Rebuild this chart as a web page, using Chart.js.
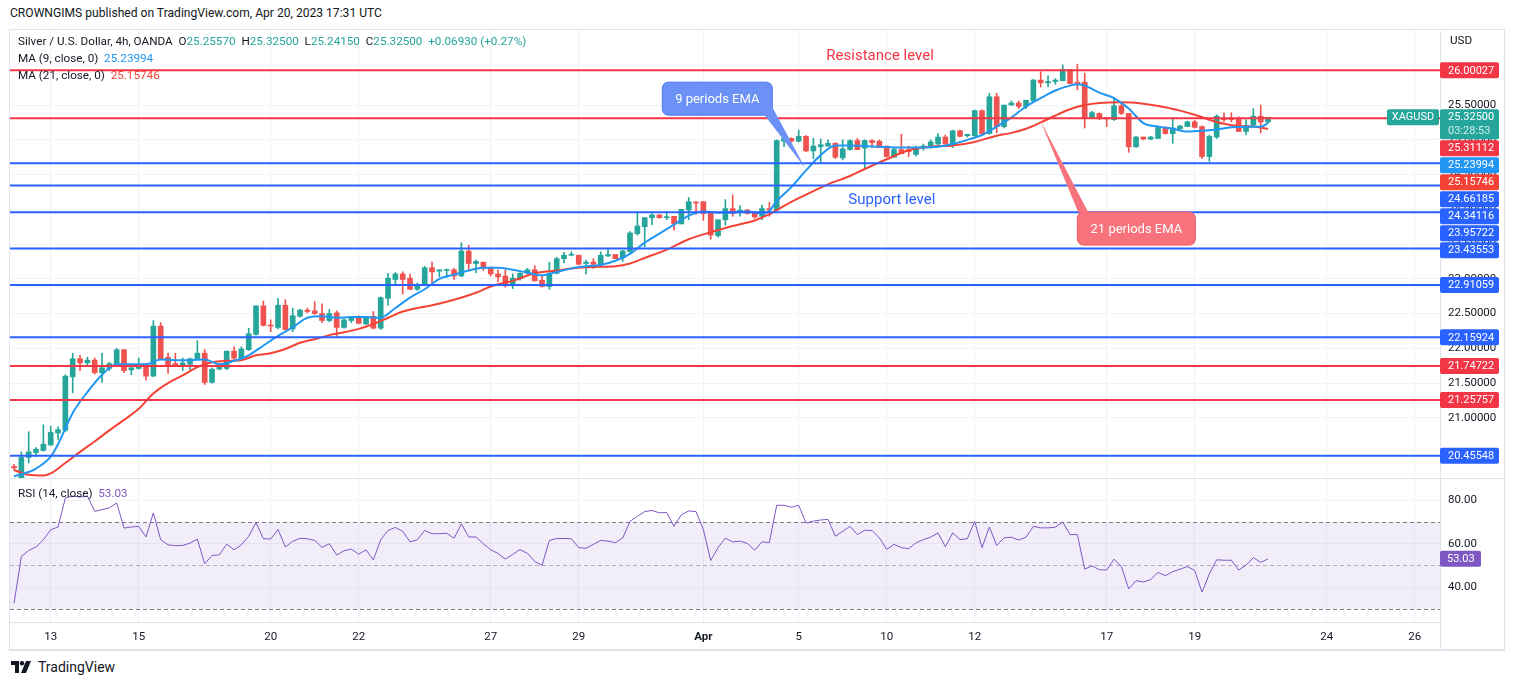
<!DOCTYPE html>
<html>
<head>
<meta charset="utf-8">
<title>Silver / U.S. Dollar 4h</title>
<script src="https://cdn.jsdelivr.net/npm/chart.js@4.4.0/dist/chart.umd.min.js"></script>
<style>
    body { margin: 0; width: 1514px; height: 685px; overflow: hidden; background: #fff;
           font-family: Roboto, "Noto Sans", sans-serif; color: #131722; position: relative; }
    #pub { position: absolute; left: 10px; top: 6px; font-size: 12.1px; }
    #frame { position: absolute; left: 9px; top: 29px; width: 1496px; height: 622px; box-sizing: border-box;
             border: 1px solid #e0e3eb; border-bottom-width: 2px; }
    canvas { position: absolute; left: 10px; }
    #main { top: 31px; }
    #rsi { top: 478px; }
    .sep { position: absolute; background: #e0e3eb; }
    .txt { position: absolute; font-size: 11.7px; white-space: pre; line-height: 14px; }
    #logo { position: absolute; left: 11px; top: 659px; font-size: 14px; display: flex; align-items: center; gap: 5px; }
</style>
</head>
<body>
<div id="pub">CROWNGIMS published on TradingView.com, Apr 20, 2023 17:31 UTC</div>
<div id="frame"></div>
<canvas id="main" width="1494" height="447"></canvas>
<canvas id="rsi" width="1494" height="172"></canvas>
<div class="sep" style="left:10px;top:478px;width:1494px;height:1px"></div>
<div class="sep" style="left:1440px;top:622px;width:1px;height:28px"></div>
<div class="txt" id="leg1" style="left:18px;top:34px"></div>
<div class="txt" id="leg2" style="left:18px;top:51px"></div>
<div class="txt" id="leg3" style="left:18px;top:68px"></div>
<div class="txt" style="left:1450px;top:33px">USD</div>
<div class="txt" id="leg4" style="left:18px;top:486px"></div>
<div id="logo">
    <svg width="22" height="14" viewBox="0 0 22 14"><path d="M0 1h8v12H4V5H0z" fill="#131722"/><circle cx="11" cy="3.2" r="2.2" fill="#131722"/><path d="M15 1h5l-5 12h-5z" fill="#131722"/></svg>
    <span>TradingView</span>
</div>

<script>
"use strict";

// candles, 4h bars, index 0 = first bar on screen (Mar 12 evening)
const open = [
    20.30, 20.12, 20.43, 20.50, 20.53, 20.61, 20.78, 20.82, 21.59, 21.85,
    21.79, 21.83, 21.65, 21.71, 21.75, 21.98, 21.69, 21.71, 21.77, 21.60,
    22.32, 21.87, 21.78, 21.76, 21.77, 21.85, 21.93, 21.51, 21.70, 21.71,
    21.96, 21.86, 21.98, 22.20, 22.61, 22.33, 22.30, 22.62, 22.28, 22.46,
    22.55, 22.54, 22.50, 22.40, 22.51, 22.30, 22.40, 22.45, 22.35, 22.46,
    22.29, 22.72, 22.99, 23.07, 23.01, 22.85, 22.91, 23.16, 23.11, 23.12,
    23.13, 23.04, 23.40, 23.22, 23.24, 23.16, 23.07, 23.04, 22.90, 23.00,
    23.08, 23.13, 22.98, 22.89, 23.08, 23.29, 23.34, 23.34, 23.22, 23.24,
    23.20, 23.33, 23.35, 23.30, 23.39, 23.65, 23.75, 23.88, 23.92, 23.88,
    23.90, 23.79, 23.99, 24.10, 24.11, 23.95, 23.62, 23.85, 24.01, 23.96,
    23.99, 23.95, 23.90, 24.01, 23.99, 24.98, 25.02, 24.98, 25.05, 24.84,
    24.90, 24.91, 24.95, 24.74, 24.86, 24.99, 24.88, 24.99, 24.98, 24.91,
    24.75, 24.86, 24.86, 24.79, 24.89, 24.89, 24.94, 25.04, 24.94, 25.13,
    25.06, 25.06, 25.42, 25.09, 25.62, 25.19, 25.50, 25.53, 25.48, 25.56,
    25.86, 25.82, 25.84, 25.85, 26.01, 25.83, 25.83, 25.32, 25.38, 25.32,
    25.29, 25.49, 25.38, 24.90, 25.04, 25.01, 25.02, 25.17, 25.09, 25.16,
    25.19, 25.26, 25.19, 24.76, 25.04, 25.31, 25.31, 25.31, 25.12, 25.21,
    25.34, 25.2557
];
const high = [
    20.33, 20.51, 20.80, 20.57, 20.90, 20.88, 20.87, 21.62, 21.93, 21.90,
    21.87, 21.86, 21.93, 21.80, 22.00, 21.98, 21.75, 21.86, 21.78, 22.40,
    22.37, 21.93, 21.93, 21.86, 21.86, 22.11, 21.98, 21.72, 21.78, 21.96,
    22.02, 22.02, 22.29, 22.61, 22.68, 22.41, 22.72, 22.70, 22.58, 22.56,
    22.58, 22.67, 22.64, 22.56, 22.54, 22.42, 22.46, 22.47, 22.46, 22.53,
    22.74, 23.08, 23.09, 23.10, 23.07, 22.94, 23.18, 23.24, 23.13, 23.14,
    23.15, 23.52, 23.48, 23.27, 23.24, 23.17, 23.13, 23.13, 23.07, 23.09,
    23.15, 23.19, 23.05, 23.24, 23.31, 23.38, 23.39, 23.34, 23.27, 23.29,
    23.39, 23.42, 23.35, 23.41, 23.68, 23.95, 23.88, 23.94, 23.92, 23.97,
    23.90, 24.00, 24.17, 24.11, 24.11, 23.95, 23.85, 24.14, 24.21, 24.05,
    24.00, 23.97, 24.06, 24.10, 25.00, 25.03, 25.03, 25.14, 25.06, 25.02,
    25.01, 25.00, 24.96, 25.00, 25.00, 25.02, 25.00, 25.00, 25.00, 24.91,
    24.89, 25.08, 24.91, 24.91, 24.94, 25.00, 25.09, 25.07, 25.14, 25.14,
    25.08, 25.43, 25.43, 25.67, 25.67, 25.50, 25.56, 25.56, 25.57, 25.87,
    25.98, 25.92, 25.88, 26.08, 26.01, 26.09, 25.96, 25.41, 25.39, 25.32,
    25.61, 25.52, 25.38, 25.05, 25.04, 25.05, 25.20, 25.19, 25.32, 25.21,
    25.27, 25.28, 25.20, 25.07, 25.36, 25.39, 25.39, 25.33, 25.29, 25.45,
    25.50, 25.325
];
const low = [
    20.25, 20.10, 20.35, 20.44, 20.52, 20.60, 20.69, 20.80, 21.36, 21.68,
    21.76, 21.63, 21.51, 21.68, 21.74, 21.65, 21.62, 21.70, 21.54, 21.59,
    21.85, 21.64, 21.75, 21.68, 21.69, 21.84, 21.48, 21.50, 21.69, 21.69,
    21.84, 21.84, 21.97, 22.19, 22.32, 22.24, 22.28, 22.27, 22.24, 22.45,
    22.51, 22.49, 22.37, 22.38, 22.17, 22.29, 22.37, 22.35, 22.34, 22.28,
    22.27, 22.62, 22.91, 22.78, 22.84, 22.83, 22.90, 22.90, 23.03, 23.02,
    22.99, 23.03, 23.12, 23.09, 23.12, 23.04, 22.96, 22.88, 22.86, 22.98,
    23.07, 22.97, 22.88, 22.85, 23.07, 23.23, 23.33, 23.20, 23.07, 23.15,
    23.17, 23.32, 23.29, 23.25, 23.38, 23.63, 23.46, 23.78, 23.87, 23.85,
    23.70, 23.79, 23.85, 23.93, 23.84, 23.57, 23.60, 23.77, 23.90, 23.90,
    23.93, 23.87, 23.85, 23.90, 23.98, 24.90, 24.97, 24.97, 24.83, 24.73,
    24.66, 24.91, 24.73, 24.71, 24.85, 24.86, 24.57, 24.89, 24.89, 24.75,
    24.75, 24.80, 24.76, 24.77, 24.85, 24.88, 24.91, 24.94, 24.89, 25.04,
    25.04, 25.04, 25.08, 25.08, 25.10, 25.17, 25.50, 25.45, 25.45, 25.55,
    25.76, 25.76, 25.80, 25.85, 25.80, 25.72, 25.17, 25.31, 25.29, 25.19,
    25.28, 25.36, 24.82, 24.89, 25.00, 25.00, 25.02, 25.08, 24.95, 25.15,
    25.19, 25.17, 24.73, 24.69, 25.02, 25.26, 25.26, 25.12, 25.07, 25.19,
    25.10, 25.2415
];
const close = [
    20.28, 20.43, 20.51, 20.55, 20.62, 20.79, 20.83, 21.60, 21.85, 21.79,
    21.83, 21.65, 21.72, 21.78, 21.98, 21.68, 21.72, 21.76, 21.60, 22.32,
    21.85, 21.76, 21.76, 21.79, 21.85, 21.93, 21.51, 21.70, 21.73, 21.96,
    21.86, 21.99, 22.21, 22.61, 22.33, 22.32, 22.62, 22.27, 22.47, 22.55,
    22.53, 22.50, 22.40, 22.50, 22.30, 22.41, 22.44, 22.36, 22.44, 22.29,
    22.73, 23.01, 23.07, 22.99, 22.85, 22.91, 23.16, 23.10, 23.13, 23.13,
    23.04, 23.40, 23.22, 23.25, 23.15, 23.07, 23.03, 22.90, 23.01, 23.08,
    23.13, 22.97, 22.89, 23.08, 23.29, 23.34, 23.35, 23.21, 23.24, 23.21,
    23.34, 23.35, 23.29, 23.40, 23.66, 23.76, 23.88, 23.92, 23.88, 23.89,
    23.79, 24.00, 24.11, 24.09, 23.94, 23.63, 23.85, 24.01, 23.94, 23.99,
    23.94, 23.89, 24.01, 23.99, 24.99, 25.02, 24.98, 25.05, 24.84, 24.91,
    24.93, 24.95, 24.75, 24.87, 24.99, 24.86, 24.99, 24.96, 24.89, 24.76,
    24.86, 24.80, 24.83, 24.89, 24.91, 24.97, 25.04, 24.94, 25.13, 25.05,
    25.08, 25.42, 25.09, 25.62, 25.19, 25.50, 25.53, 25.48, 25.57, 25.86,
    25.82, 25.84, 25.86, 26.01, 25.81, 25.81, 25.32, 25.39, 25.32, 25.30,
    25.49, 25.38, 24.90, 25.04, 25.01, 25.04, 25.19, 25.09, 25.17, 25.20,
    25.26, 25.18, 24.76, 25.05, 25.34, 25.29, 25.29, 25.12, 25.21, 25.34,
    25.2557, 25.325
];

const ema9Idx = [0, 2, 3, 5, 6, 8, 10, 12, 14, 16, 18, 20, 22, 24, 26, 28, 30, 32, 34, 36, 38, 40, 42, 44, 46, 48, 50,
    52, 54, 56, 58, 60, 62, 64, 66, 68, 70, 72, 74, 76, 78, 80, 82, 84, 86, 88, 90, 92, 94, 96, 98, 100, 102, 103,
    104, 106, 108, 110, 112, 114, 116, 118, 120, 122, 124, 126, 128, 130, 132, 134, 136, 138, 140, 142, 144, 145,
    146, 148, 150, 152, 154, 156, 158, 160, 162, 164, 166, 168, 170, 171];
const ema9Val = [20.16, 20.22, 20.27, 20.44, 20.62, 21.07, 21.37, 21.62, 21.77, 21.77, 21.77, 21.84, 21.83, 21.83,
    21.84, 21.77, 21.82, 21.90, 22.04, 22.18, 22.30, 22.44, 22.46, 22.44, 22.45, 22.45, 22.44, 22.58, 22.73, 22.85,
    23.00, 23.06, 23.12, 23.16, 23.16, 23.13, 23.09, 23.05, 23.10, 23.15, 23.18, 23.20, 23.26, 23.36, 23.52, 23.65,
    23.78, 23.91, 23.97, 23.95, 23.95, 23.97, 23.94, 23.98, 24.12, 24.32, 24.56, 24.78, 24.92, 24.92, 24.91, 24.90,
    24.89, 24.89, 24.89, 24.90, 24.94, 25.00, 25.07, 25.19, 25.32, 25.48, 25.60, 25.71, 25.78, 25.80, 25.78, 25.68,
    25.60, 25.45, 25.24, 25.19, 25.16, 25.12, 25.13, 25.15, 25.18, 25.19, 25.19, 25.23994];

const ema21Idx = [0, 2, 4, 5, 7, 9, 11, 13, 15, 17, 19, 21, 23, 25, 27, 29, 31, 33, 35, 37, 39, 41, 43, 45, 47, 49,
    51, 53, 55, 57, 60, 63, 65, 68, 71, 74, 76, 79, 82, 84, 86, 89, 92, 95, 98, 101, 103, 105, 107, 111, 114, 116,
    119, 122, 125, 128, 131, 134, 136, 138, 140, 142, 144, 146, 148, 151, 154, 157, 159, 161, 163, 165, 167, 169, 171];
const ema21Val = [20.25, 20.18, 20.17, 20.20, 20.35, 20.51, 20.66, 20.82, 20.97, 21.13, 21.35, 21.50, 21.61, 21.73,
    21.80, 21.82, 21.83, 21.90, 21.93, 21.99, 22.08, 22.13, 22.19, 22.23, 22.28, 22.35, 22.44, 22.53, 22.58, 22.62,
    22.70, 22.80, 22.89, 22.97, 23.08, 23.12, 23.15, 23.17, 23.18, 23.22, 23.30, 23.42, 23.57, 23.67, 23.76, 23.84,
    23.93, 24.05, 24.16, 24.36, 24.48, 24.58, 24.72, 24.85, 24.90, 24.92, 24.97, 25.06, 25.10, 25.16, 25.25, 25.35,
    25.44, 25.50, 25.53, 25.54, 25.52, 25.47, 25.42, 25.36, 25.29, 25.23, 25.20, 25.19, 25.15746];

// RSI(14), one value per bar
const rsi = [
    32.6, 54.1, 56.9, 58.5, 61.8, 66.4, 67.7, 81.1, 81.9, 81.5,
    81.9, 74.9, 75.7, 76.5, 78.8, 67.2, 67.7, 68.0, 63.1, 74.2,
    61.8, 59.5, 59.1, 59.2, 60.3, 62.1, 50.8, 54.6, 54.9, 59.8,
    57.2, 59.5, 63.4, 69.8, 62.3, 62.2, 66.5, 58.5, 61.1, 62.5,
    62.3, 61.5, 58.3, 60.0, 54.8, 56.8, 57.5, 55.2, 57.2, 52.6,
    61.8, 66.1, 67.5, 65.7, 60.9, 61.8, 66.1, 64.6, 64.6, 64.8,
    62.5, 69.1, 63.1, 63.1, 60.0, 57.2, 55.5, 52.9, 55.1, 57.3,
    55.6, 51.8, 50.1, 61.5, 62.4, 62.4, 62.3, 58.2, 57.9, 59.7,
    61.5, 61.2, 60.5, 62.6, 70.3, 72.6, 74.8, 75.3, 74.2, 74.4,
    68.0, 73.3, 75.1, 74.8, 66.5, 52.3, 58.2, 62.6, 60.8, 61.2,
    60.1, 57.0, 60.9, 60.5, 77.7, 77.7, 76.8, 77.7, 69.5, 70.4,
    70.9, 71.2, 63.5, 65.7, 68.0, 64.2, 66.2, 66.1, 62.7, 57.4,
    59.7, 58.2, 57.7, 60.4, 61.9, 63.0, 65.0, 58.6, 65.0, 61.9,
    62.3, 70.3, 58.2, 67.7, 59.2, 62.7, 63.0, 61.7, 63.0, 68.0,
    67.3, 67.3, 67.6, 70.0, 64.2, 64.2, 48.3, 49.8, 48.0, 47.9,
    52.9, 49.5, 39.2, 43.0, 42.4, 43.5, 46.8, 45.3, 47.1, 48.3,
    49.5, 47.7, 37.7, 46.1, 52.6, 52.4, 52.4, 47.9, 50.1, 53.6,
    51.4, 53.03
];

// horizontal levels drawn on the chart
const levelPrices = [26.00027, 25.31112, 24.66185, 24.34116, 23.95722, 23.43553, 22.91059, 22.15924, 21.74722, 21.25757, 20.45548];
const levelKinds  = ['res', 'res', 'sup', 'sup', 'sup', 'sup', 'sup', 'sup', 'res', 'res', 'sup'];

// time axis
const tickPos  = [5, 17, 35, 47, 65, 77, 94, 107, 119, 131, 149, 161, 179, 191];
const tickText = ['13', '15', '20', '22', '27', '29', 'Apr', '5', '10', '12', '17', '19', '24', '26'];
const priceTicks = [21, 21.5, 22, 22.5, 23, 23.5, 24, 24.5, 25, 25.5];
const rsiTicks = [40, 60, 80];

const UP = '#26a69a', DOWN = '#ef5350', RED = '#f23645', BLUE = '#2962ff';
const FONT = 'Roboto, "Noto Sans", sans-serif';
const X_MIN = -0.55, X_MAX = 194.45;
const last = close.length - 1;

Chart.defaults.font.family = FONT;
Chart.defaults.color = '#131722';

// ---- legend texts
function span(txt, col) { return '<span style="color:' + col + '">' + txt + '</span>'; }
var chg = close[last] - close[last - 1];
document.getElementById('leg1').innerHTML = 'Silver / U.S. Dollar, 4h, OANDA  O' + span(open[last].toFixed(5), UP)
    + '  H' + span(high[last].toFixed(5), UP) + '  L' + span(low[last].toFixed(5), UP)
    + '  C' + span(close[last].toFixed(5), UP) + '  ' + span('+' + chg.toFixed(5) + ' (+' + (chg / close[last - 1] * 100).toFixed(2) + '%)', UP);
document.getElementById('leg2').innerHTML = 'MA (9, close, 0)  ' + span(ema9Val[ema9Val.length - 1].toFixed(5), '#2196f3');
document.getElementById('leg3').innerHTML = 'MA (21, close, 0)  ' + span(ema21Val[ema21Val.length - 1].toFixed(5), '#f44336');
document.getElementById('leg4').innerHTML = 'RSI (14, close)  ' + span(rsi[last].toFixed(2), '#7e57c2');

// ---- helpers
function timeAxis(showLabels) {
    return {
        type: 'linear', min: X_MIN, max: X_MAX, offset: false,
        afterBuildTicks: function (s) { s.ticks = tickPos.map(function (v) { return { value: v }; }); },
        afterFit: function (s) { s.height = showLabels ? 28 : 0; s.paddingLeft = 0; s.paddingRight = 0; },
        grid: { color: '#f0f3fa', drawTicks: false, offset: false },
        border: { display: showLabels, color: '#e0e3eb' },
        ticks: {
            display: showLabels, autoSkip: false, maxRotation: 0, padding: 8, color: '#131722',
            font: function (ctx) { return { size: 11.5, weight: ctx.tick && ctx.tick.value === 94 ? 'bold' : 'normal' }; },
            callback: function (v) { var k = tickPos.indexOf(v); return k < 0 ? '' : tickText[k]; }
        }
    };
}

function box(ctx, x, y, w, h, col) {
    ctx.fillStyle = col;
    ctx.beginPath();
    ctx.roundRect(x, y, w, h, 2);
    ctx.fill();
}

// annotations placed in data units: [bar index, price]
const notes = [
    { text: 'Resistance level', at: [118.1, 26.2], color: RED },
    { text: 'Support level', at: [119.7, 24.13], color: BLUE }
];
const callouts = [
    { text: '9 periods EMA', corner: [88.4, 25.83], w: 110, h: 33, tip: [107.9, 24.59], fill: '#6b90f6', edge: '#4c78ee', tail: 'right' },
    { text: '21 periods EMA', corner: [145.0, 23.96], w: 118, h: 33, tip: [139.9, 25.29], fill: '#f7727b', edge: '#ef5a64', tail: 'top' }
];

const overlays = {
    id: 'overlays',
    afterDatasetsDraw: function (chart) {
        var ctx = chart.ctx, xs = chart.scales.x, ys = chart.scales.y;
        ctx.save();
        ctx.textAlign = 'center';
        ctx.textBaseline = 'middle';
        ctx.font = '15px ' + FONT;
        notes.forEach(function (n) {
            ctx.fillStyle = n.color;
            ctx.fillText(n.text, xs.getPixelForValue(n.at[0]), ys.getPixelForValue(n.at[1]));
        });
        callouts.forEach(function (c) {
            var x = xs.getPixelForValue(c.corner[0]), y = ys.getPixelForValue(c.corner[1]);
            var tx = xs.getPixelForValue(c.tip[0]), ty = ys.getPixelForValue(c.tip[1]);
            ctx.fillStyle = c.fill;
            ctx.strokeStyle = c.edge;
            ctx.lineWidth = 1;
            ctx.beginPath();
            ctx.roundRect(x, y, c.w, c.h, 6);
            ctx.fill();
            ctx.stroke();
            ctx.beginPath();
            if (c.tail === 'right') {
                ctx.moveTo(x + c.w - 8, y + c.h - 0.5);
                ctx.lineTo(tx, ty);
                ctx.lineTo(x + c.w - 0.5, y + c.h - 9);
            } else {
                ctx.moveTo(x + 1, y + 0.5);
                ctx.lineTo(tx, ty);
                ctx.lineTo(x + 11, y + 0.5);
            }
            ctx.closePath();
            ctx.fill();
            ctx.fillStyle = '#fff';
            ctx.font = '13px ' + FONT;
            ctx.fillText(c.text, x + c.w / 2, y + c.h / 2 + 1);
        });
        ctx.restore();
    },
    afterDraw: function (chart) {
        // price labels on the right scale, stacked so they don't overlap
        var ctx = chart.ctx, ys = chart.scales.y, right = chart.chartArea.right;
        var tags = levelPrices.map(function (p, k) {
            return { p: p, col: levelKinds[k] === 'res' ? RED : BLUE };
        });
        tags.push({ p: close[last], col: UP, sub: '03:28:53' });
        tags.push({ p: ema9Val[ema9Val.length - 1], col: '#2196f3' });
        tags.push({ p: ema21Val[ema21Val.length - 1], col: '#f44336' });
        tags.sort(function (a, b) { return b.p - a.p; });
        ctx.save();
        ctx.font = '11px ' + FONT;
        ctx.textBaseline = 'middle';
        var prev = -1e9;
        tags.forEach(function (t) {
            var h = t.sub ? 30 : 16;
            var top = Math.max(ys.getPixelForValue(t.p) - 8, prev + 1);
            box(ctx, right, top, 59, h, t.col);
            ctx.fillStyle = '#fff';
            ctx.textAlign = 'left';
            ctx.fillText(t.p.toFixed(5), right + 8, top + 8.5);
            if (t.sub) {
                ctx.fillStyle = 'rgba(255,255,255,0.8)';
                ctx.fillText(t.sub, right + 8, top + 22.5);
                box(ctx, right - 53, top, 52, 16, UP);
                ctx.fillStyle = '#fff';
                ctx.textAlign = 'center';
                ctx.fillText('XAGUSD', right - 27, top + 8.5);
            }
            prev = top + h;
        });
        ctx.restore();
    }
};

// ---- main price pane
var colors = open.map(function (o, i) { return close[i] >= o ? UP : DOWN; });
var datasets = levelPrices.map(function (p, k) {
    return {
        type: 'line', order: 0, borderColor: levelKinds[k] === 'res' ? RED : BLUE, borderWidth: 2, pointRadius: 0,
        data: [{ x: -2, y: p }, { x: 200, y: p }]
    };
});
datasets.push({
    type: 'line', order: 1, borderColor: '#2196f3', borderWidth: 2, pointRadius: 0, cubicInterpolationMode: 'monotone',
    data: ema9Idx.map(function (x, k) { return { x: x, y: ema9Val[k] }; })
});
datasets.push({
    type: 'line', order: 1, borderColor: '#f44336', borderWidth: 2, pointRadius: 0, cubicInterpolationMode: 'monotone',
    data: ema21Idx.map(function (x, k) { return { x: x, y: ema21Val[k] }; })
});
datasets.push({
    type: 'bar', order: 3, grouped: false, barThickness: 1, backgroundColor: colors,
    data: open.map(function (o, i) { return { x: i, y: [low[i], high[i]] }; })
});
datasets.push({
    type: 'bar', order: 2, grouped: false, barThickness: 5, minBarLength: 1, backgroundColor: colors,
    data: open.map(function (o, i) { return { x: i, y: [o, close[i]] }; })
});

new Chart(document.getElementById('main'), {
    type: 'bar',
    data: { datasets: datasets },
    options: {
        responsive: false, animation: false, layout: { padding: 0 },
        plugins: { legend: { display: false }, tooltip: { enabled: false } },
        scales: {
            x: timeAxis(false),
            y: {
                type: 'linear', position: 'right', min: 20.134, max: 26.566,
                afterBuildTicks: function (s) { s.ticks = priceTicks.map(function (v) { return { value: v }; }); },
                afterFit: function (s) { s.width = 64; s.paddingTop = 0; s.paddingBottom = 0; },
                grid: { color: '#f0f3fa', drawTicks: false },
                border: { color: '#e0e3eb' },
                ticks: { padding: 8, font: { size: 11.5 }, callback: function (v) { return v.toFixed(5); } }
            }
        }
    },
    plugins: [overlays]
});

// ---- RSI pane
const rsiBand = {
    id: 'rsiBand',
    beforeDatasetsDraw: function (chart) {
        var ctx = chart.ctx, ys = chart.scales.y, a = chart.chartArea;
        var y70 = ys.getPixelForValue(70), y50 = ys.getPixelForValue(50), y30 = ys.getPixelForValue(30);
        ctx.save();
        ctx.fillStyle = 'rgba(126,87,194,0.1)';
        ctx.fillRect(a.left, y70, a.right - a.left, y30 - y70);
        ctx.setLineDash([4, 3]);
        ctx.lineWidth = 1;
        [[y70, '#787b86'], [y50, 'rgba(120,123,134,0.55)'], [y30, '#787b86']].forEach(function (d) {
            ctx.strokeStyle = d[1];
            ctx.beginPath();
            ctx.moveTo(a.left, Math.round(d[0]) + 0.5);
            ctx.lineTo(a.right, Math.round(d[0]) + 0.5);
            ctx.stroke();
        });
        ctx.restore();
    },
    afterDraw: function (chart) {
        var ctx = chart.ctx, ys = chart.scales.y, right = chart.chartArea.right;
        var y = ys.getPixelForValue(rsi[last]);
        ctx.save();
        box(ctx, right, y - 8, 41, 16, '#7e57c2');
        ctx.fillStyle = '#fff';
        ctx.font = '11px ' + FONT;
        ctx.textBaseline = 'middle';
        ctx.fillText(rsi[last].toFixed(2), right + 7, y + 0.5);
        ctx.restore();
    }
};

new Chart(document.getElementById('rsi'), {
    type: 'line',
    data: {
        datasets: [{
            borderColor: '#7e57c2', borderWidth: 1, pointRadius: 0,
            data: rsi.map(function (v, i) { return { x: i, y: v }; })
        }]
    },
    options: {
        responsive: false, animation: false, layout: { padding: 0 },
        plugins: { legend: { display: false }, tooltip: { enabled: false } },
        scales: {
            x: timeAxis(true),
            y: {
                type: 'linear', position: 'right', min: 23.97, max: 90.25,
                afterBuildTicks: function (s) { s.ticks = rsiTicks.map(function (v) { return { value: v }; }); },
                afterFit: function (s) { s.width = 64; s.paddingTop = 0; s.paddingBottom = 0; },
                grid: { color: '#f0f3fa', drawTicks: false },
                border: { color: '#e0e3eb' },
                ticks: { padding: 8, font: { size: 11.5 }, callback: function (v) { return v.toFixed(2); } }
            }
        }
    },
    plugins: [rsiBand]
});
</script>
</body>
</html>
